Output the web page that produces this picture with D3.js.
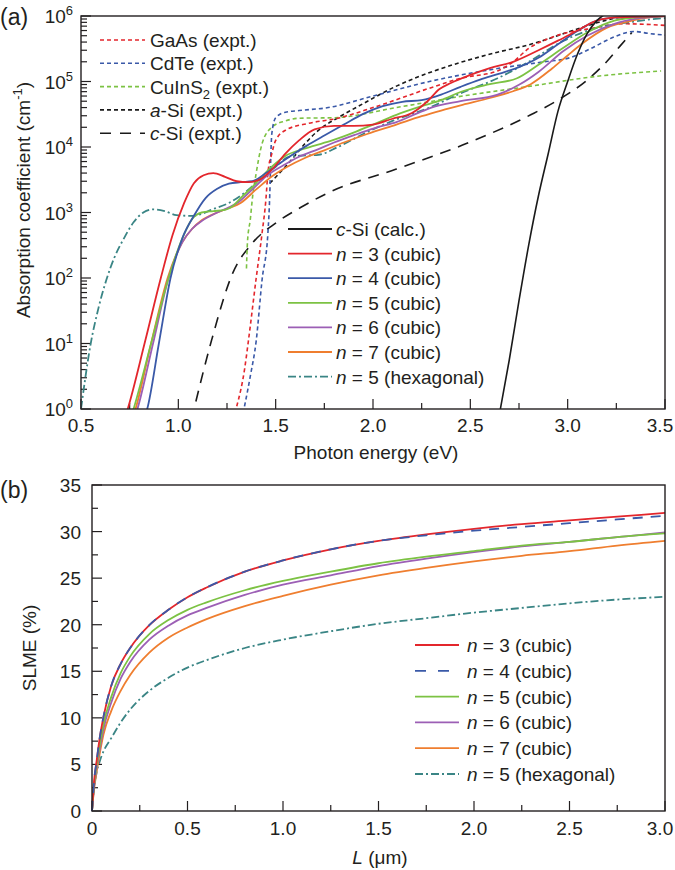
<!DOCTYPE html>
<html>
<head>
<meta charset="utf-8">
<script src="https://cdn.jsdelivr.net/npm/d3@7"></script>
<style>
  body { margin: 0; background: #fff; }
  svg text { font-family: "Liberation Sans", Arial, sans-serif; fill: #231f20; }
</style>
</head>
<body>
<svg id="chart" width="675" height="870"></svg>
<script>
// ---- panel (a): photon energy (eV) vs absorption coefficient (cm^-1) ----
const gaas   = [[1.30,1.1],[1.34,4],[1.36,11],[1.40,100],[1.43,480],[1.45,1600],[1.46,4000],[1.48,7900],[1.50,1.26e4],[1.55,1.8e4],[1.67,2.3e4],[1.82,2.75e4],[2.00,4.0e4],[2.29,7.9e4],[2.45,1.12e5],[2.64,1.45e5],[2.72,2.0e5],[2.80,3.2e5],[2.90,4.5e5],[2.98,5.4e5],[3.10,6.3e5],[3.29,7.6e5],[3.50,7.2e5]];
const cdte   = [[1.34,1.1],[1.37,3.2],[1.40,11],[1.43,93],[1.46,480],[1.47,2000],[1.475,7100],[1.48,1.58e4],[1.50,2.8e4],[1.55,3.4e4],[1.62,3.6e4],[1.77,4.0e4],[2.00,6.0e4],[2.29,1.0e5],[2.64,1.58e5],[2.88,2.0e5],[3.01,2.3e5],[3.12,3.2e5],[3.24,4.8e5],[3.34,5.8e5],[3.42,5.4e5],[3.50,5.1e5]];
const cuins2 = [[1.35,140],[1.355,350],[1.37,800],[1.38,1600],[1.40,4000],[1.43,1.12e4],[1.48,2.0e4],[1.55,2.5e4],[1.62,2.75e4],[1.80,2.8e4],[2.12,4.0e4],[2.46,6.0e4],[2.81,8.5e4],[3.15,1.2e5],[3.48,1.45e5]];
const aSi    = [[1.47,2800],[1.52,4000],[1.58,6300],[1.65,1.12e4],[1.72,1.8e4],[1.82,2.8e4],[1.95,4.6e4],[2.12,8.5e4],[2.30,1.4e5],[2.46,2.0e5],[2.64,2.8e5],[2.81,3.7e5],[2.98,5.4e5],[3.10,7.1e5],[3.19,8.5e5],[3.30,1.0e6]];
const cSiExp = [[1.09,1.3],[1.17,11],[1.28,120],[1.38,340],[1.50,690],[1.63,1200],[1.77,2000],[2.12,4600],[2.46,1.07e4],[2.81,3.1e4],[2.95,5.2e4],[3.10,1.05e5],[3.20,2.0e5],[3.27,3.5e5],[3.33,5.6e5]];
const cSiCalc = [[2.65,0.85],[2.70,5.6],[2.75,45],[2.80,320],[2.85,1800],[2.90,7900],[2.95,3.5e4],[3.00,1.0e5],[3.05,2.6e5],[3.10,5.4e5],[3.15,8.5e5],[3.20,1.1e6]];
const cubic3 = [[0.73,0.8],[0.74,1],[0.83,11],[0.91,100],[0.97,450],[1.03,1400],[1.08,2800],[1.13,3700],[1.18,4000],[1.24,3500],[1.30,3000],[1.36,2900],[1.42,3200],[1.48,4500],[1.55,7900],[1.62,1.26e4],[1.70,1.86e4],[1.80,2.1e4],[1.90,2.1e4],[2.00,2.2e4],[2.10,2.7e4],[2.20,3.3e4],[2.28,5.0e4],[2.34,7.6e4],[2.40,9.5e4],[2.50,1.26e5],[2.60,1.6e5],[2.72,2.0e5],[2.85,3.0e5],[2.95,4.2e5],[3.05,6.0e5],[3.15,8.5e5],[3.25,9.5e5],[3.50,1.0e6]];
const cubic4 = [[0.83,0.8],[0.84,1],[0.90,10],[0.96,100],[1.02,400],[1.08,890],[1.14,1660],[1.20,2300],[1.26,2750],[1.32,2900],[1.38,3000],[1.45,4000],[1.52,5600],[1.58,7400],[1.66,1.05e4],[1.75,1.5e4],[1.85,2.2e4],[1.95,3.2e4],[2.05,4.2e4],[2.15,4.9e4],[2.25,5.2e4],[2.35,6.3e4],[2.45,8.3e4],[2.55,1.07e5],[2.65,1.32e5],[2.75,1.66e5],[2.85,2.3e5],[2.95,3.7e5],[3.05,5.9e5],[3.15,8.5e5],[3.25,9.5e5],[3.50,1.0e6]];
const cubic5 = [[0.76,0.8],[0.77,1],[0.86,10],[0.95,100],[1.02,400],[1.07,790],[1.12,1000],[1.18,1050],[1.24,1100],[1.28,1260],[1.32,1660],[1.38,2450],[1.48,5000],[1.56,7600],[1.62,8900],[1.70,1.05e4],[1.79,1.26e4],[1.90,1.66e4],[2.00,2.2e4],[2.12,3.1e4],[2.25,4.2e4],[2.35,5.2e4],[2.46,7.1e4],[2.60,9.1e4],[2.74,1.12e5],[2.85,1.8e5],[2.98,3.3e5],[3.10,5.6e5],[3.24,8.5e5],[3.35,9.5e5],[3.50,1.0e6]];
const cubic6 = [[0.78,0.8],[0.79,1],[0.87,10],[0.95,100],[1.02,350],[1.07,560],[1.12,740],[1.20,1000],[1.26,1200],[1.31,1450],[1.38,2250],[1.45,3550],[1.54,5250],[1.62,7100],[1.72,9300],[1.80,1.17e4],[1.92,1.58e4],[2.02,2.0e4],[2.12,2.4e4],[2.22,3.2e4],[2.30,4.0e4],[2.45,5.0e4],[2.64,6.3e4],[2.75,8.9e4],[2.85,1.4e5],[2.98,2.95e5],[3.10,5.0e5],[3.24,7.6e5],[3.35,9.1e5],[3.50,1.0e6]];
const cubic7 = [[0.77,0.8],[0.78,1],[0.86,10],[0.945,100],[1.02,350],[1.07,560],[1.12,760],[1.20,1000],[1.26,1170],[1.32,1400],[1.40,2250],[1.48,3550],[1.56,5000],[1.65,6800],[1.75,8900],[1.85,1.17e4],[1.97,1.58e4],[2.12,2.2e4],[2.25,2.95e4],[2.35,3.6e4],[2.46,4.4e4],[2.60,5.6e4],[2.72,7.1e4],[2.81,9.1e4],[2.92,1.58e5],[3.00,2.5e5],[3.07,3.7e5],[3.20,6.6e5],[3.33,8.5e5],[3.42,9.5e5],[3.50,1.0e6]];
const hex5   = [[0.50,1],[0.55,10],[0.59,35],[0.63,93],[0.67,200],[0.72,400],[0.77,710],[0.82,1000],[0.87,1120],[0.93,1050],[0.99,910],[1.06,890],[1.12,950],[1.17,1100],[1.26,1400],[1.34,2000],[1.42,3200],[1.50,5000],[1.57,7100],[1.64,7400],[1.72,7600],[1.82,1.0e4],[1.95,1.58e4],[2.10,2.5e4],[2.29,4.0e4],[2.45,6.6e4],[2.64,1.12e5],[2.80,2.0e5],[2.98,4.2e5],[3.15,6.6e5],[3.30,7.9e5],[3.40,8.7e5],[3.50,9.3e5]];

// ---- panel (b): L (um) vs SLME (%) ----
const thickness = [0, 0.01, 0.025, 0.04, 0.06, 0.1, 0.15, 0.2, 0.3, 0.4, 0.5, 0.6, 0.8, 1.0, 1.25, 1.5, 1.75, 2.0, 2.25, 2.5, 2.75, 3.0];
const slme3   = [0, 3.0, 5.5, 7.8, 10.1, 13.4, 15.8, 17.5, 19.95, 21.6, 22.95, 24.0, 25.7, 26.9, 28.1, 29.0, 29.7, 30.3, 30.8, 31.2, 31.6, 32.0];
const slme4   = [0, 3.0, 5.5, 7.8, 10.1, 13.4, 15.8, 17.5, 19.95, 21.6, 22.95, 24.0, 25.7, 26.9, 28.1, 29.0, 29.6, 30.1, 30.5, 30.9, 31.3, 31.7];
const slme5   = [0, 2.6, 5.0, 7.0, 9.3, 12.2, 14.8, 16.6, 19.0, 20.5, 21.6, 22.4, 23.7, 24.7, 25.7, 26.6, 27.3, 27.9, 28.5, 28.9, 29.4, 29.8];
const slme6   = [0, 2.4, 4.7, 6.6, 8.8, 11.6, 14.2, 16.0, 18.4, 19.9, 21.0, 21.8, 23.2, 24.3, 25.3, 26.3, 27.1, 27.8, 28.4, 28.9, 29.4, 29.9];
const slme7   = [0, 2.2, 4.3, 6.1, 8.2, 10.7, 12.9, 14.6, 17.0, 18.6, 19.7, 20.6, 22.0, 23.1, 24.3, 25.3, 26.1, 26.8, 27.4, 27.9, 28.5, 29.0];
const slmeHex = [0, 2.3, 4.2, 5.3, 6.4, 7.8, 9.5, 10.9, 12.9, 14.3, 15.4, 16.2, 17.5, 18.4, 19.3, 20.1, 20.7, 21.3, 21.8, 22.3, 22.7, 23.0];

const energyTicks = [0.5, 1.0, 1.5, 2.0, 2.5, 3.0, 3.5];
const lTicks = [0, 0.5, 1.0, 1.5, 2.0, 2.5, 3.0];
const slmeTicks = [0, 5, 10, 15, 20, 25, 30, 35];

const RED = "#e3262c", BLUE = "#3a59a8", GREEN = "#7cc243", PURPLE = "#9c5fb5",
      ORANGE = "#ef7e2f", TEAL = "#3a8585", BLACK = "#1a1a1a";
const FS = 19;

const svg = d3.select("#chart");
svg.append("rect").attr("width", 675).attr("height", 870).attr("fill", "#fff");

function supText(sel, base, sup) {
  sel.text(base);
  sel.append("tspan").attr("dy", -8).attr("font-size", 13).text(sup);
}
// last tick label would run past the page edge, so pull it in
function tickX(x) { return Math.min(x, 675 - 15); }

// ===================== panel (a) =====================
const A = {left: 81, right: 665, top: 16, bottom: 409};
const xa = d3.scaleLinear().domain([0.5, 3.5]).range([A.left, A.right]);
const ya = d3.scaleLog().domain([1, 1e6]).range([A.bottom, A.top]);

svg.append("clipPath").attr("id", "clipA").append("rect")
  .attr("x", A.left).attr("y", A.top).attr("width", A.right - A.left).attr("height", A.bottom - A.top);

const ga = svg.append("g");
// y ticks (log, inward)
ya.ticks().forEach(v => {
  const major = Math.abs(Math.log10(v) - Math.round(Math.log10(v))) < 1e-9;
  ga.append("line").attr("x1", A.left).attr("x2", A.left + (major ? 10 : 6))
    .attr("y1", ya(v)).attr("y2", ya(v)).attr("stroke", "#231f20").attr("stroke-width", 1.2);
  if (major) {
    const t = ga.append("text").attr("x", 73).attr("y", ya(v) + 7)
      .attr("text-anchor", "end").attr("font-size", FS);
    supText(t, "10", Math.round(Math.log10(v)));
  }
});
// x ticks
d3.range(0.5, 3.5001, 0.25).forEach(v => {
  const major = Math.abs(v * 2 - Math.round(v * 2)) < 1e-9;
  ga.append("line").attr("x1", xa(v)).attr("x2", xa(v))
    .attr("y1", A.bottom).attr("y2", A.bottom - (major ? 10 : 6))
    .attr("stroke", "#231f20").attr("stroke-width", 1.2);
});
energyTicks.forEach(v => {
  ga.append("text").attr("x", tickX(xa(v))).attr("y", A.bottom + 23).attr("text-anchor", "middle")
    .attr("font-size", FS).text(v.toFixed(1));
});

const lineA = d3.line().x(d => xa(d[0])).y(d => ya(d[1])).curve(d3.curveMonotoneX);
const seriesA = [
  {data: cSiExp, color: BLACK, dash: "11,8", w: 1.6},
  {data: aSi, color: BLACK, dash: "4,3", w: 1.6},
  {data: cuins2, color: GREEN, dash: "4,3", w: 1.6},
  {data: cdte, color: BLUE, dash: "4,3", w: 1.6},
  {data: gaas, color: RED, dash: "4,3", w: 1.6},
  {data: hex5, color: TEAL, dash: "8,3,2,3", w: 1.8},
  {data: cubic7, color: ORANGE, dash: null, w: 1.8},
  {data: cubic6, color: PURPLE, dash: null, w: 1.8},
  {data: cubic5, color: GREEN, dash: null, w: 1.8},
  {data: cubic4, color: BLUE, dash: null, w: 1.8},
  {data: cubic3, color: RED, dash: null, w: 1.8},
  {data: cSiCalc, color: BLACK, dash: null, w: 1.6}
];
const plotA = ga.append("g").attr("clip-path", "url(#clipA)");
seriesA.forEach(s => {
  plotA.append("path").datum(s.data).attr("d", lineA).attr("fill", "none")
    .attr("stroke", s.color).attr("stroke-width", s.w)
    .attr("stroke-dasharray", s.dash);
});
ga.append("rect").attr("x", A.left).attr("y", A.top).attr("width", A.right - A.left)
  .attr("height", A.bottom - A.top).attr("fill", "none").attr("stroke", "#231f20").attr("stroke-width", 1.4);

// legend (a) top-left
const legA1 = [
  {label: ["GaAs (expt.)"], color: RED, dash: "4,3"},
  {label: ["CdTe (expt.)"], color: BLUE, dash: "4,3"},
  {label: ["CuInS", "2", " (expt.)"], color: GREEN, dash: "4,3", sub: true},
  {label: ["a", "-Si (expt.)"], color: BLACK, dash: "4,3", ital: true},
  {label: ["c", "-Si (expt.)"], color: BLACK, dash: "11,9", ital: true}
];
legA1.forEach((d, i) => {
  const yy = 40 + i * 23.3;
  ga.append("line").attr("x1", 100).attr("x2", 145).attr("y1", yy).attr("y2", yy)
    .attr("stroke", d.color).attr("stroke-width", 1.6).attr("stroke-dasharray", d.dash);
  const t = ga.append("text").attr("x", 150).attr("y", yy + 7).attr("font-size", FS);
  if (d.sub) {
    t.append("tspan").text(d.label[0]);
    t.append("tspan").attr("dy", 5).attr("font-size", 13).text(d.label[1]);
    t.append("tspan").attr("dy", -5).text(d.label[2]);
  } else if (d.ital) {
    t.append("tspan").attr("font-style", "italic").text(d.label[0]);
    t.append("tspan").text(d.label[1]);
  } else {
    t.text(d.label[0]);
  }
});

// legend (a) bottom-right
const legA2 = [
  {it: "c", rest: "-Si (calc.)", color: BLACK, dash: null},
  {it: "n", rest: " = 3 (cubic)", color: RED, dash: null},
  {it: "n", rest: " = 4 (cubic)", color: BLUE, dash: null},
  {it: "n", rest: " = 5 (cubic)", color: GREEN, dash: null},
  {it: "n", rest: " = 6 (cubic)", color: PURPLE, dash: null},
  {it: "n", rest: " = 7 (cubic)", color: ORANGE, dash: null},
  {it: "n", rest: " = 5 (hexagonal)", color: TEAL, dash: "8,3,2,3"}
];
legA2.forEach((d, i) => {
  const yy = 229 + i * 24.6;
  ga.append("line").attr("x1", 288).attr("x2", 332).attr("y1", yy).attr("y2", yy)
    .attr("stroke", d.color).attr("stroke-width", 1.8).attr("stroke-dasharray", d.dash);
  const t = ga.append("text").attr("x", 336).attr("y", yy + 7).attr("font-size", FS);
  t.append("tspan").attr("font-style", "italic").text(d.it);
  t.append("tspan").text(d.rest);
});

// axis titles (a)
ga.append("text").attr("x", 376).attr("y", 459)
  .attr("text-anchor", "middle").attr("font-size", FS).text("Photon energy (eV)");
const ytA = ga.append("text").attr("transform", "translate(30,200) rotate(-90)")
  .attr("text-anchor", "middle").attr("font-size", FS);
ytA.append("tspan").text("Absorption coefficient (cm");
ytA.append("tspan").attr("dy", -8).attr("font-size", 13).text("-1");
ytA.append("tspan").attr("dy", 8).text(")");
svg.append("text").attr("x", 0).attr("y", 25).attr("font-size", 23).text("(a)");

// ===================== panel (b) =====================
const B = {left: 92, right: 665, top: 485, bottom: 811};
const xb = d3.scaleLinear().domain([0, 3]).range([B.left, B.right]);
const yb = d3.scaleLinear().domain([0, 35]).range([B.bottom, B.top]);
const gb = svg.append("g");

d3.range(0, 35.001, 2.5).forEach(v => {
  const major = v % 5 === 0;
  gb.append("line").attr("x1", B.left).attr("x2", B.left + (major ? 10 : 6))
    .attr("y1", yb(v)).attr("y2", yb(v)).attr("stroke", "#231f20").attr("stroke-width", 1.2);
});
slmeTicks.forEach(v => {
  gb.append("text").attr("x", 81).attr("y", yb(v) + 7).attr("text-anchor", "end")
    .attr("font-size", FS).text(v);
});
d3.range(0, 3.0001, 0.25).forEach(v => {
  const major = Math.abs(v * 2 - Math.round(v * 2)) < 1e-9;
  gb.append("line").attr("x1", xb(v)).attr("x2", xb(v))
    .attr("y1", B.bottom).attr("y2", B.bottom - (major ? 10 : 6))
    .attr("stroke", "#231f20").attr("stroke-width", 1.2);
});
lTicks.forEach(v => {
  gb.append("text").attr("x", tickX(xb(v))).attr("y", B.bottom + 24).attr("text-anchor", "middle")
    .attr("font-size", FS).text(v === 0 ? "0" : v.toFixed(1));
});

const lineB = d3.line().x((d, i) => xb(thickness[i])).y(d => yb(d)).curve(d3.curveMonotoneX);
const seriesB = [
  {data: slmeHex, color: TEAL, dash: "8,3,2,3", label: " = 5 (hexagonal)"},
  {data: slme7, color: ORANGE, dash: null, label: " = 7 (cubic)"},
  {data: slme6, color: PURPLE, dash: null, label: " = 6 (cubic)"},
  {data: slme5, color: GREEN, dash: null, label: " = 5 (cubic)"},
  {data: slme3, color: RED, dash: null, label: " = 3 (cubic)"},
  {data: slme4, color: BLUE, dash: "10,8", label: " = 4 (cubic)"}
];
seriesB.forEach(s => {
  gb.append("path").datum(s.data).attr("d", lineB).attr("fill", "none")
    .attr("stroke", s.color).attr("stroke-width", 1.8).attr("stroke-dasharray", s.dash);
});
gb.append("rect").attr("x", B.left).attr("y", B.top).attr("width", B.right - B.left)
  .attr("height", B.bottom - B.top).attr("fill", "none").attr("stroke", "#231f20").attr("stroke-width", 1.4);

const legB = [seriesB[4], seriesB[5], seriesB[3], seriesB[2], seriesB[1], seriesB[0]];
legB.forEach((d, i) => {
  const yy = 645 + i * 25.8;
  gb.append("line").attr("x1", 415).attr("x2", 459).attr("y1", yy).attr("y2", yy)
    .attr("stroke", d.color).attr("stroke-width", 1.8)
    .attr("stroke-dasharray", d.dash === "10,8" ? "11,12" : d.dash);
  const t = gb.append("text").attr("x", 467).attr("y", yy + 7).attr("font-size", FS);
  t.append("tspan").attr("font-style", "italic").text("n");
  t.append("tspan").text(d.label);
});

const xtB = gb.append("text").attr("x", 380).attr("y", 864).attr("text-anchor", "middle").attr("font-size", FS);
xtB.append("tspan").attr("font-style", "italic").text("L");
xtB.append("tspan").text(" (\u03bcm)");
gb.append("text").attr("transform", "translate(36,648) rotate(-90)")
  .attr("text-anchor", "middle").attr("font-size", FS).text("SLME (%)");
svg.append("text").attr("x", 0).attr("y", 498).attr("font-size", 23).text("(b)");
</script>
</body>
</html>
